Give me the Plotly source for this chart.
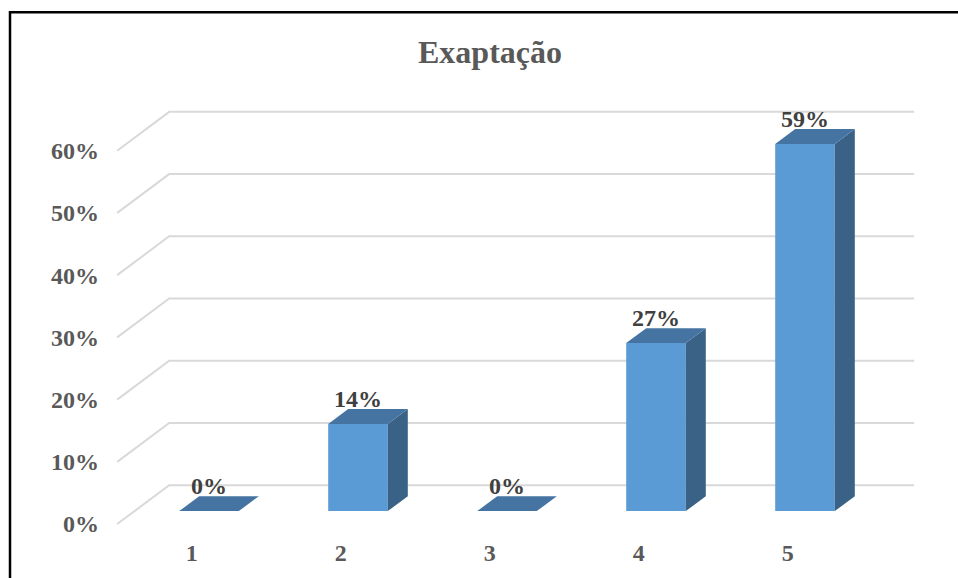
import plotly.graph_objects as go

# ---- data ----
categories = ["1", "2", "3", "4", "5"]
cat_pos = [1, 2, 3, 4, 5]
values = [0, 14, 0, 27, 59]
value_labels = ["0%", "14%", "0%", "27%", "59%"]
y_ticks = [0, 10, 20, 30, 40, 50, 60]
y_tick_labels = ["0%", "10%", "20%", "30%", "40%", "50%", "60%"]
title_text = "Exaptação"

# ---- layout constants ----
W, H = 958, 578
L, T = 100, 80
PR, PB = 940, 538
PX_CAT = 149.0
PX_PCT = 6.25
CAT1_PX = 209.0
ZERO_PX = 513.0
pw, ph = PR - L, PB - T
xmin = 1 - (CAT1_PX - L) / PX_CAT
xmax = xmin + pw / PX_CAT
ymax = (ZERO_PX - T) / PX_PCT
ymin = ymax - ph / PX_PCT
DX = 52 / PX_CAT
DY = 39 / PX_PCT
D0 = 1 / 3
D1 = D0 + 20 / 52
HALF = 0.2

FONT = "Liberation Serif"


def pt(c, v, d):
    return c + (d - D0) * DX, v + (d - D0) * DY


fig = go.Figure()

# gridlines (floor/walls)
gx, gy = [], []
for t in y_ticks:
    for p in (pt(0.5, t, 0), pt(0.5, t, 1), pt(5.5, t, 1)):
        gx.append(p[0]); gy.append(p[1])
    gx.append(None); gy.append(None)
fig.add_trace(go.Scatter(x=gx, y=gy, mode="lines",
                         line=dict(color="#d9d9d9", width=2),
                         hoverinfo="skip", showlegend=False))


def faces(kind):
    xs, ys = [], []
    for c, v in zip(cat_pos, values):
        if kind == "front":
            poly = [pt(c - HALF, 0, D0), pt(c + HALF, 0, D0), pt(c + HALF, v, D0), pt(c - HALF, v, D0)]
        elif kind == "top":
            poly = [pt(c - HALF, v, D0), pt(c + HALF, v, D0), pt(c + HALF, v, D1), pt(c - HALF, v, D1)]
        else:
            poly = [pt(c + HALF, 0, D0), pt(c + HALF, 0, D1), pt(c + HALF, v, D1), pt(c + HALF, v, D0)]
        poly.append(poly[0])
        for p in poly:
            xs.append(p[0]); ys.append(p[1])
        xs.append(None); ys.append(None)
    return xs, ys


for kind, col in (("front", "#5b9bd5"), ("side", "#3a6287"), ("top", "#4674a2")):
    xs, ys = faces(kind)
    fig.add_trace(go.Scatter(x=xs, y=ys, mode="lines", fill="toself", fillcolor=col,
                             line=dict(width=0, color=col), hoverinfo="skip",
                             showlegend=False))

# data labels
lx = [c for c in cat_pos]
ly = [v + (D1 - D0) * DY - 0.6 for v in values]
fig.add_trace(go.Scatter(x=lx, y=ly, mode="text", text=value_labels,
                         textposition="top center",
                         textfont=dict(family=FONT, size=24, color="#404040", weight="bold"),
                         hoverinfo="skip", showlegend=False))

# frame
fig.add_shape(type="rect", xref="paper", yref="paper",
              x0=(10 - L) / pw, x1=(990 - L) / pw,
              y0=1 - (620 - T) / ph, y1=1 - (12 - T) / ph,
              line=dict(color="black", width=2.5), fillcolor="rgba(0,0,0,0)", layer="above")

fig.update_layout(
    width=W, height=H,
    margin=dict(l=L, r=W - PR, t=T, b=H - PB, pad=0),
    paper_bgcolor="white", plot_bgcolor="white",
    title=dict(text=title_text, x=490 / W, xref="container", xanchor="center",
               y=1 - 52 / H, yref="container", yanchor="middle",
               font=dict(family=FONT, size=32, color="#595959", weight="bold")),
    xaxis=dict(range=[xmin, xmax], showgrid=False, zeroline=False, showline=False,
               ticks="", tickmode="array",
               tickvals=[pt(c, 0, 0)[0] for c in cat_pos], ticktext=categories,
               tickfont=dict(family=FONT, size=24, color="#595959", weight="bold"),
               fixedrange=True),
    yaxis=dict(range=[ymin, ymax], showgrid=False, zeroline=False, showline=False,
               ticks="", tickmode="array",
               tickvals=[pt(0.5, t, 0)[1] for t in y_ticks], ticktext=y_tick_labels,
               tickfont=dict(family=FONT, size=24, color="#595959", weight="bold"),
               fixedrange=True),
    showlegend=False,
)

fig.write_html("out.html")
